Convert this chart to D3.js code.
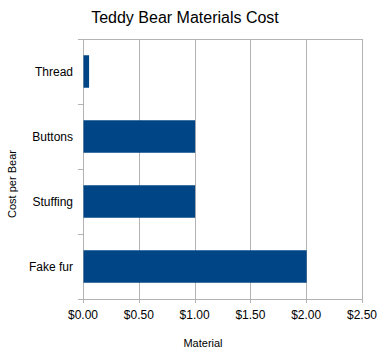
<!DOCTYPE html>
<html><head><meta charset="utf-8">
<script src="https://cdn.jsdelivr.net/npm/d3@7"></script>
<style>body{margin:0;background:#fff}svg{display:block;font-family:"Liberation Sans",Arial,sans-serif}</style>
</head><body><svg id="c" width="381" height="356"></svg>
<script>
const categories = ["Thread", "Buttons", "Stuffing", "Fake fur"];
const costs = [0.05, 1.00, 1.00, 2.00];
const xTicks = [0, 0.5, 1.0, 1.5, 2.0, 2.5];
const title = "Teddy Bear Materials Cost";
const xTitle = "Material";
const yTitle = "Cost per Bear";

const svg = d3.select("#c");
const m = {l: 83, r: 362, t: 39, b: 299};
const x = d3.scaleLinear().domain([0, 2.5]).range([m.l, m.r]);
const y = d3.scaleBand().domain(categories).range([m.t, m.b]).paddingInner(0.5).paddingOuter(0.25);
const yb = d3.scaleBand().domain(categories).range([m.t, m.b]);
const grid = "#b3b3b3";

// vertical grid lines
svg.append("g").selectAll("line").data(xTicks).join("line")
  .attr("x1", d => Math.round(x(d)) + 0.5).attr("x2", d => Math.round(x(d)) + 0.5)
  .attr("y1", m.t).attr("y2", m.b + 4).attr("stroke", grid);
// top line
svg.append("line").attr("x1", m.l).attr("x2", m.r + 0.5).attr("y1", m.t + 0.5).attr("y2", m.t + 0.5).attr("stroke", grid);
// bottom axis line
svg.append("line").attr("x1", m.l - 5).attr("x2", m.r + 0.5).attr("y1", m.b + 0.5).attr("y2", m.b + 0.5).attr("stroke", grid);
// left axis ticks at band boundaries
const bounds = categories.map(c => yb(c)).concat([m.b]);
svg.append("g").selectAll("line").data(bounds).join("line")
  .attr("x1", m.l - 5).attr("x2", m.l).attr("y1", d => Math.round(d) + 0.5).attr("y2", d => Math.round(d) + 0.5).attr("stroke", grid);

// bars
svg.append("g").selectAll("rect").data(categories).join("rect")
  .attr("x", x(0) + 0.5).attr("y", c => y(c))
  .attr("width", (c, i) => x(costs[i]) - x(0))
  .attr("height", y.bandwidth()).attr("fill", "#004586");

// x tick labels
svg.append("g").selectAll("text").data(xTicks).join("text")
  .attr("x", d => x(d)).attr("y", 319).attr("text-anchor", "middle")
  .attr("font-size", 12).attr("fill", "#000").text(d3.format("$.2f"));
// category labels
svg.append("g").selectAll("text").data(categories).join("text")
  .attr("x", 73).attr("y", c => yb(c) + yb.bandwidth() / 2 + 4).attr("text-anchor", "end")
  .attr("font-size", 12).attr("fill", "#000").text(c => c);

// titles
svg.append("text").attr("x", 185).attr("y", 23).attr("text-anchor", "middle")
  .attr("font-size", 16).attr("fill", "#000").text(title);
svg.append("text").attr("x", 203).attr("y", 347).attr("text-anchor", "middle")
  .attr("font-size", 11).attr("fill", "#000").text(xTitle);
svg.append("text").attr("transform", "translate(16,184) rotate(-90)").attr("text-anchor", "middle")
  .attr("font-size", 11).attr("fill", "#000").text(yTitle);
</script></body></html>
